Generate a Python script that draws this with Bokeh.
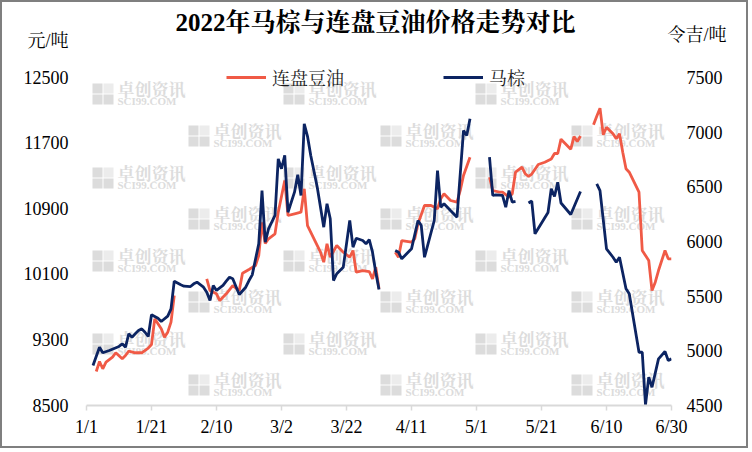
import math
from bokeh.plotting import figure
from bokeh.models import (Range1d, LinearAxis, FixedTicker, Label, Legend,
                          LegendItem, ColumnDataSource, BoxAnnotation)
from bokeh.embed import file_html
from bokeh.resources import INLINE

# ---------------- data ----------------
title_text = "2022年马棕与连盘豆油价格走势对比"
left_unit = "元/吨"
right_unit = "令吉/吨"
soy_name = "连盘豆油"
palm_name = "马棕"

x_tick_labels = ["1/1", "1/21", "2/10", "3/2", "3/22", "4/11", "5/1", "5/21", "6/10", "6/30"]
left_ticks = [8500, 9300, 10100, 10900, 11700, 12500]
right_ticks = [4500, 5000, 5500, 6000, 6500, 7000, 7500]

# Dalian soybean oil (yuan/t), left axis; None marks a gap
soy_dates = ["1/4", "1/5", "1/6", "1/7", "1/9", "1/10", "1/12", "1/13", "1/14", "1/16",
             "1/18", "1/20", "1/21", "1/22", "1/23", "1/24", "1/25", "1/26", "1/27", "1/28",
             None,
             "2/7", "2/8", "2/10", "2/11", "2/13", "2/15", "2/17", "2/18", "2/20", "2/22",
             "2/23", "2/24", "2/25", "2/26", "2/28", "3/1", "3/3", "3/4", "3/6", "3/8",
             "3/9", "3/10", "3/12", "3/14", "3/15", "3/16", "3/17", "3/19", "3/21", "3/23",
             "3/24", "3/25", "3/27", "3/29", "3/30", "3/31", "4/1",
             None,
             "4/6", "4/7", "4/8", "4/11", "4/12", "4/13", "4/15", "4/17", "4/19", "4/20",
             "4/21", "4/23", "4/25", "4/26", "4/27", "4/29",
             None,
             "5/5", "5/6", "5/8", "5/9", "5/11", "5/12", "5/13", "5/15", "5/16", "5/17",
             "5/18", "5/20", "5/22", "5/24", "5/25", "5/26", "5/27", "5/30", "5/31", "6/1",
             "6/2",
             None,
             "6/6", "6/7", "6/8", "6/9", "6/10", "6/12", "6/13", "6/14", "6/15", "6/16",
             "6/17", "6/20", "6/21", "6/23", "6/24", "6/25", "6/26", "6/28", "6/29", "6/30"]
soy_values = [8915, 9037, 8948, 9028, 9089, 9143, 9070, 9110, 9162, 9143,
              9143, 9199, 9244, 9557, 9496, 9435, 9333, 9394, 9516, 9841,
              None,
              10045, 9902, 9862, 9780, 9862, 9963, 9902, 10113, 10159, 10207,
              10329, 10732, 10476, 10533, 10594, 10857, 11244, 10817, 10838, 10857,
              11143, 10695, 10533, 10370, 10248, 10472, 10309, 10451, 10370, 10309,
              10390, 10126, 10146, 10134, 10045, 10187, 9923,
              None,
              10370, 10309, 10512, 10491, 10533, 10716, 10939, 10939, 10899, 11021,
              11082, 11000, 10979, 11122, 11305, 11528,
              None,
              11284, 11122, 11101, 11101, 11040, 11082, 11345, 11406, 11326, 11293,
              11323, 11439, 11467, 11506, 11573, 11573, 11748, 11626, 11780, 11720,
              11787,
              None,
              11923, 12028, 12126, 11801, 11894, 11813, 11752, 11813, 11589, 11387,
              11345, 11101, 10390, 10268, 9902, 10004, 10146, 10390, 10289, 10289]

# Malaysian palm oil (ringgit/t), right axis; None marks a gap
palm_dates = ["1/3", "1/5", "1/6", "1/8", "1/11", "1/12", "1/13", "1/14", "1/15", "1/16",
              "1/17", "1/18", "1/19", "1/20", "1/21", "1/23", "1/24", "1/26", "1/27", "1/28",
              "1/30", "1/31", "2/2", "2/3", "2/4", "2/6", "2/7", "2/8", "2/9", "2/10",
              "2/12", "2/13", "2/14", "2/15", "2/17", "2/19", "2/20", "2/21", "2/23", "2/24",
              "2/25", "2/26", "2/28", "3/1", "3/2", "3/3", "3/4", "3/6", "3/7", "3/8",
              "3/9", "3/10", "3/11", "3/13", "3/15", "3/16", "3/17", "3/18", "3/19", "3/21",
              "3/23", "3/24", "3/25", "3/27", "3/28", "3/29", "3/30", "3/31", "4/1",
              None,
              "4/6", "4/7", "4/8", "4/11", "4/13", "4/14", "4/15", "4/18", "4/19", "4/20",
              "4/21", "4/23", "4/25", "4/27", "4/28", "4/29",
              None,
              "5/5", "5/6", "5/7", "5/9", "5/10", "5/11", "5/12", "5/13",
              None,
              "5/17", "5/18", "5/19", "5/23", "5/24", "5/25", "5/26", "5/27", "5/30", "6/2",
              None,
              "6/7", "6/8", "6/10", "6/12", "6/13", "6/14", "6/16", "6/17", "6/20", "6/21",
              "6/22", "6/23", "6/24", "6/26", "6/28", "6/29", "6/30"]
palm_values = [4866, 5033, 4982, 5003, 5040, 5064, 5033, 5156, 5125, 5156,
               5186, 5201, 5170, 5131, 5330, 5298, 5268, 5317, 5384, 5637,
               5604, 5591, 5588, 5613, 5628, 5582, 5536, 5460, 5598, 5552,
               5598, 5637, 5673, 5659, 5515, 5582, 5643, 5695, 5979, 6466,
               5994, 6116, 6238, 6756, 6665, 6787, 6268, 6451, 6610, 6421,
               7076, 6962, 6787, 6497, 6131, 6345, 6208, 5643, 5705, 5765,
               6192, 5948, 6030, 6009, 5979, 6018, 5902, 5719, 5561,
               None,
               5918, 5902, 5842, 5933, 6192, 6146, 5856, 6192, 6649, 6314,
               6345, 6283, 6222, 7015, 6969, 7122,
               None,
               6771, 6421, 6427, 6421, 6314, 6466, 6359, 6366,
               None,
               6352, 6370, 6070, 6265, 6482, 6411, 6542, 6352, 6247, 6457,
               None,
               6528, 6466, 5933, 5856, 5811, 5856, 5567, 5522, 4987, 4987,
               4505, 4759, 4667, 4927, 4994, 4912, 4927]

# ---------------- helpers ----------------
MONTH_START = {1: 0, 2: 31, 3: 59, 4: 90, 5: 120, 6: 151}


def day_of(s):
    if s is None:
        return float("nan")
    m, d = s.split("/")
    return MONTH_START[int(m)] + int(d) - 1


def num(v):
    return float("nan") if v is None else float(v)


FONT = "Liberation Serif, Noto Serif CJK SC, Noto Sans CJK SC"
SOY_COLOR = "#F05A46"
PALM_COLOR = "#0C2462"
WM_COLOR = "#DCDCDC"

soy_src = ColumnDataSource(dict(x=[day_of(s) for s in soy_dates], y=[num(v) for v in soy_values]))
palm_src = ColumnDataSource(dict(x=[day_of(s) for s in palm_dates], y=[num(v) for v in palm_values]))
tick_pos = [day_of(s) for s in x_tick_labels]

# ---------------- layout geometry (page pixels) ----------------
BORDER = 2
W, H = 752 - 2 * BORDER, 452 - 2 * BORDER
PX0, PY0 = 86, 405        # page position of the 1/1 / 8500 corner
PX1, PY1 = 671, 77        # page position of the 6/30 / 12500 corner
FL = PX0 - BORDER
FW = PX1 - PX0
FT = 0                    # frame reaches the top so texts above the data area are not clipped
FH = PY0 - BORDER - FT

# value ranges: data spans PY1..PY0, frame extends to the canvas top
l_per_px = (left_ticks[-1] - left_ticks[0]) / (PY0 - PY1)
r_per_px = (right_ticks[-1] - right_ticks[0]) / (PY0 - PY1)
l_top = left_ticks[0] + (PY0 - BORDER) * l_per_px
r_top = right_ticks[0] + (PY0 - BORDER) * r_per_px

p = figure(width=W, height=H, output_backend="svg", toolbar_location=None,
           title_location=None,
           x_range=Range1d(tick_pos[0], tick_pos[-1]),
           y_range=Range1d(left_ticks[0], l_top),
           min_border_left=FL, min_border_top=FT,
           min_border_right=W - FL - FW, min_border_bottom=H - FT - FH)
p.styles = {"border": "2px solid #7F7F7F"}
p.extra_y_ranges = {"right": Range1d(right_ticks[0], r_top)}
p.outline_line_color = None
p.xgrid.visible = False
p.ygrid.visible = False
p.background_fill_color = "white"
p.border_fill_color = "white"

# x axis
xa = p.xaxis[0]
xa.ticker = FixedTicker(ticks=tick_pos)
xa.major_label_overrides = {t: lab for t, lab in zip(tick_pos, x_tick_labels)}
xa.axis_line_color = "#D9D9D9"
xa.axis_line_width = 2
xa.major_tick_line_color = "#D9D9D9"
xa.major_tick_line_width = 1.5
xa.major_tick_in = 0
xa.major_tick_out = 5
xa.minor_tick_line_color = None
xa.major_label_standoff = 6
xa.major_label_text_font = FONT
xa.major_label_text_font_size = "18px"
xa.major_label_text_color = "#000000"

# left axis (unit shown as a label at the top of the axis)
left_unit_at = 12950
ya = p.yaxis[0]
ya.ticker = FixedTicker(ticks=left_ticks + [left_unit_at])
ya.major_label_overrides = {left_unit_at: left_unit}
ya.axis_line_color = None
ya.major_tick_line_color = None
ya.minor_tick_line_color = None
ya.major_tick_in = 0
ya.major_tick_out = 0
ya.major_label_standoff = 18
ya.major_label_text_font = FONT
ya.major_label_text_font_size = "18px"
ya.major_label_text_color = "#000000"

# right axis
ra = LinearAxis(y_range_name="right", ticker=FixedTicker(ticks=right_ticks))
ra.axis_line_color = None
ra.major_tick_line_color = None
ra.minor_tick_line_color = None
ra.major_tick_in = 0
ra.major_tick_out = 0
ra.major_label_standoff = 15
ra.major_label_text_font = FONT
ra.major_label_text_font_size = "18px"
ra.major_label_text_color = "#000000"
p.add_layout(ra, "right")

# right unit on its own axis, pulled back next to the numbers
right_unit_at = 7893
ru = LinearAxis(y_range_name="right", ticker=FixedTicker(ticks=[right_unit_at]))
ru.major_label_overrides = {right_unit_at: right_unit}
ru.axis_line_color = None
ru.major_tick_line_color = None
ru.minor_tick_line_color = None
ru.major_tick_in = 0
ru.major_tick_out = 0
ru.major_label_standoff = -58
ru.major_label_text_font = FONT
ru.major_label_text_font_size = "18px"
ru.major_label_text_color = "#000000"
p.add_layout(ru, "right")

# watermarks (decorative, screen units relative to the frame corner)
wm_rows = [83, 125, 167, 208, 250, 291, 333, 374]
for i, ly in enumerate(wm_rows):
    cols = [92, 283, 475] if i % 2 == 0 else [188, 380, 571]
    for lx in cols:
        for (dx, dy, c) in [(0, 0, WM_COLOR), (0, 11, WM_COLOR), (11, 11, WM_COLOR), (11, 0, "#ECECEC")]:
            p.add_layout(BoxAnnotation(left=lx + dx - PX0, right=lx + dx + 10 - PX0,
                                       top=PY0 - (ly + dy), bottom=PY0 - (ly + dy + 10),
                                       left_units="screen", right_units="screen",
                                       top_units="screen", bottom_units="screen",
                                       fill_color=c, fill_alpha=1, line_color=None,
                                       level="underlay", editable=False))
        p.add_layout(Label(x=lx + 25 - PX0, y=PY0 - (ly + 7), x_units="screen", y_units="screen",
                           text="卓创资讯", text_font=FONT, text_font_size="17px",
                           text_font_style="bold", text_color=WM_COLOR,
                           text_baseline="middle", level="underlay"))
        p.add_layout(Label(x=lx + 25 - PX0, y=PY0 - (ly + 17), x_units="screen", y_units="screen",
                           text="SCI99.COM", text_font=FONT, text_font_size="11px",
                           text_font_style="bold", text_color=WM_COLOR,
                           text_baseline="middle", level="underlay"))

# lines
r_soy = p.line("x", "y", source=soy_src, line_color=SOY_COLOR, line_width=2.8)
r_palm = p.line("x", "y", source=palm_src, line_color=PALM_COLOR, line_width=2.8,
                y_range_name="right")

# legends
for name, rend, lx in [(soy_name, r_soy, 226), (palm_name, r_palm, 443)]:
    leg = Legend(items=[LegendItem(label=name, renderers=[rend])],
                 location=(lx - PX0, PY0 - 90), orientation="horizontal",
                 glyph_width=40, glyph_height=20, label_height=20, label_standoff=6,
                 padding=0, margin=0, spacing=0,
                 background_fill_alpha=0, border_line_color=None,
                 label_text_font=FONT, label_text_font_size="18px",
                 label_text_color="#1A1A1A")
    p.add_layout(leg)

# title
p.add_layout(Label(x=375 - PX0, y=PY0 - 22, x_units="screen", y_units="screen",
                   text=title_text, text_font=FONT, text_font_size="25px",
                   text_font_style="bold", text_color="#000000",
                   text_align="center", text_baseline="middle"))

open("out.html", "w").write(file_html(p, INLINE))
